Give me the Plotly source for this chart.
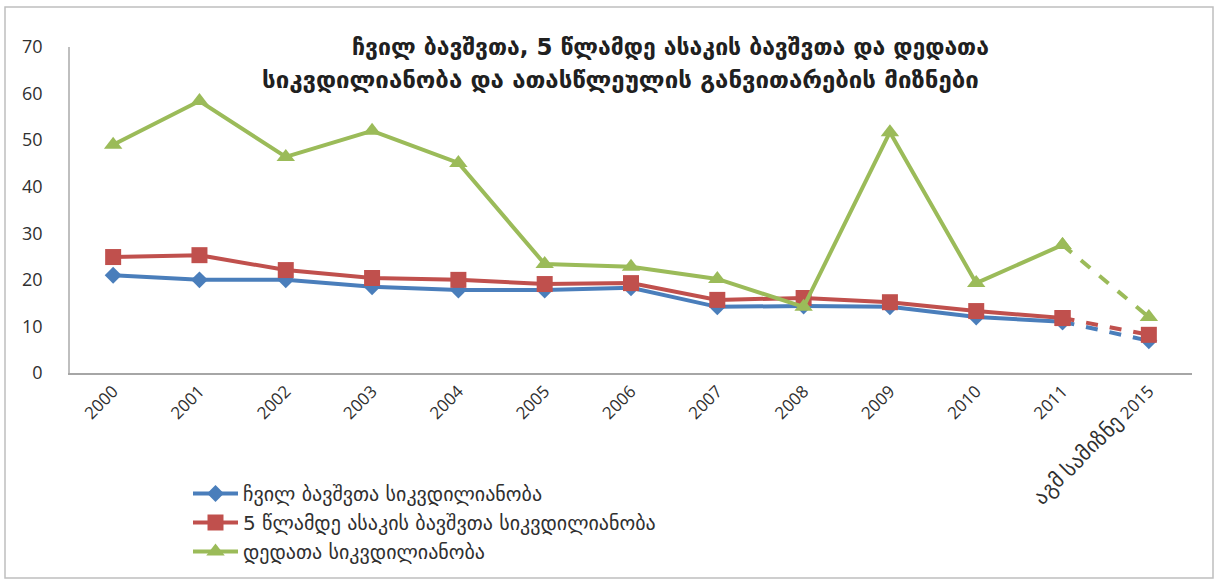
import plotly.graph_objects as go

years = ["2000", "2001", "2002", "2003", "2004", "2005", "2006",
         "2007", "2008", "2009", "2010", "2011", "აგმ სამიზნე 2015"]

infant = [21.0, 20.0, 20.0, 18.5, 17.8, 17.8, 18.3, 14.2, 14.4, 14.2, 12.0, 11.0, 6.9]
under5 = [24.9, 25.3, 22.1, 20.4, 20.0, 19.1, 19.3, 15.7, 16.1, 15.2, 13.3, 11.8, 8.2]
maternal = [49.0, 58.4, 46.4, 52.0, 45.1, 23.4, 22.8, 20.2, 14.2, 51.7, 19.3, 27.5, 12.0]

names = ["ჩვილ ბავშვთა სიკვდილიანობა",
         "5 წლამდე ასაკის ბავშვთა სიკვდილიანობა",
         "დედათა სიკვდილიანობა"]
colors = ["#4A7EBB", "#C0504D", "#9BBB59"]
symbols = ["diamond", "square", "triangle-up"]
sizes = [13, 16, 16]

# the Georgian tick label is drawn a bit larger, as in the source
tick_text = years[:-1] + ['<span style="font-size:21px">აგმ სამიზნე</span> 2015']

fig = go.Figure()

for vals, name, col, sym, sz in zip([infant, under5, maternal], names, colors, symbols, sizes):
    # actual values, solid
    fig.add_trace(go.Scatter(
        x=years[:-1], y=vals[:-1], name=name, mode="lines+markers",
        line=dict(color=col, width=4),
        marker=dict(symbol=sym, size=sz, color=col)))
    # target, dashed
    fig.add_trace(go.Scatter(
        x=years[-2:], y=vals[-2:], mode="lines+markers", showlegend=False,
        line=dict(color=col, width=4, dash="dash"),
        marker=dict(symbol=sym, size=sz, color=col)))

fig.update_xaxes(
    type="category", categoryorder="array", categoryarray=years,
    tickvals=years, ticktext=tick_text,
    range=[-0.5, 12.5], showline=True, linecolor="#A6A6A6", linewidth=1.5,
    tickangle=-45, showgrid=False, ticks="",
    tickfont=dict(family="Open Sans", size=17, color="#303030"))
fig.update_yaxes(
    range=[0, 70], dtick=10, showline=True, linecolor="#BFBFBF", linewidth=1.5,
    showgrid=False, zeroline=False, ticks="", ticklabelstandoff=22,
    tickfont=dict(family="Open Sans", size=18, color="#303030"))

fig.add_annotation(
    text="<b>ჩვილ ბავშვთა, 5 წლამდე ასაკის ბავშვთა და დედათა</b>",
    x=(670 - 70) / 1122, y=(373 - 47) / 326, xref="paper", yref="paper",
    xanchor="center", yanchor="middle", showarrow=False,
    font=dict(family="DejaVu Sans", size=23, color="#202020"))
fig.add_annotation(
    text="<b>სიკვდილიანობა და ათასწლეულის განვითარების მიზნები</b>",
    x=(620 - 70) / 1122, y=(373 - 80) / 326, xref="paper", yref="paper",
    xanchor="center", yanchor="middle", showarrow=False,
    font=dict(family="DejaVu Sans", size=24, color="#202020"))

# outer frame
fig.add_shape(type="rect", xref="paper", yref="paper",
              x0=(5 - 70) / 1122, x1=(1213 - 70) / 1122,
              y0=(373 - 578) / 326, y1=(373 - 7) / 326,
              line=dict(color="#BFBFBF", width=1.5))

fig.update_layout(
    width=1218, height=583,
    margin=dict(l=70, r=26, t=47, b=210, autoexpand=False),
    plot_bgcolor="white", paper_bgcolor="white",
    showlegend=True,
    legend=dict(x=(188 - 70) / 1122, y=(373 - 474) / 326,
                xanchor="left", yanchor="top", orientation="v",
                tracegroupgap=0, itemwidth=45,
                font=dict(family="DejaVu Sans", size=20, color="#303030"),
                bgcolor="rgba(0,0,0,0)"),
)

# drop the default 8px page margin so the figure sits at the window corner
fig.write_html("out.html", config={"displayModeBar": False},
               post_script="document.body.style.margin='0';")
